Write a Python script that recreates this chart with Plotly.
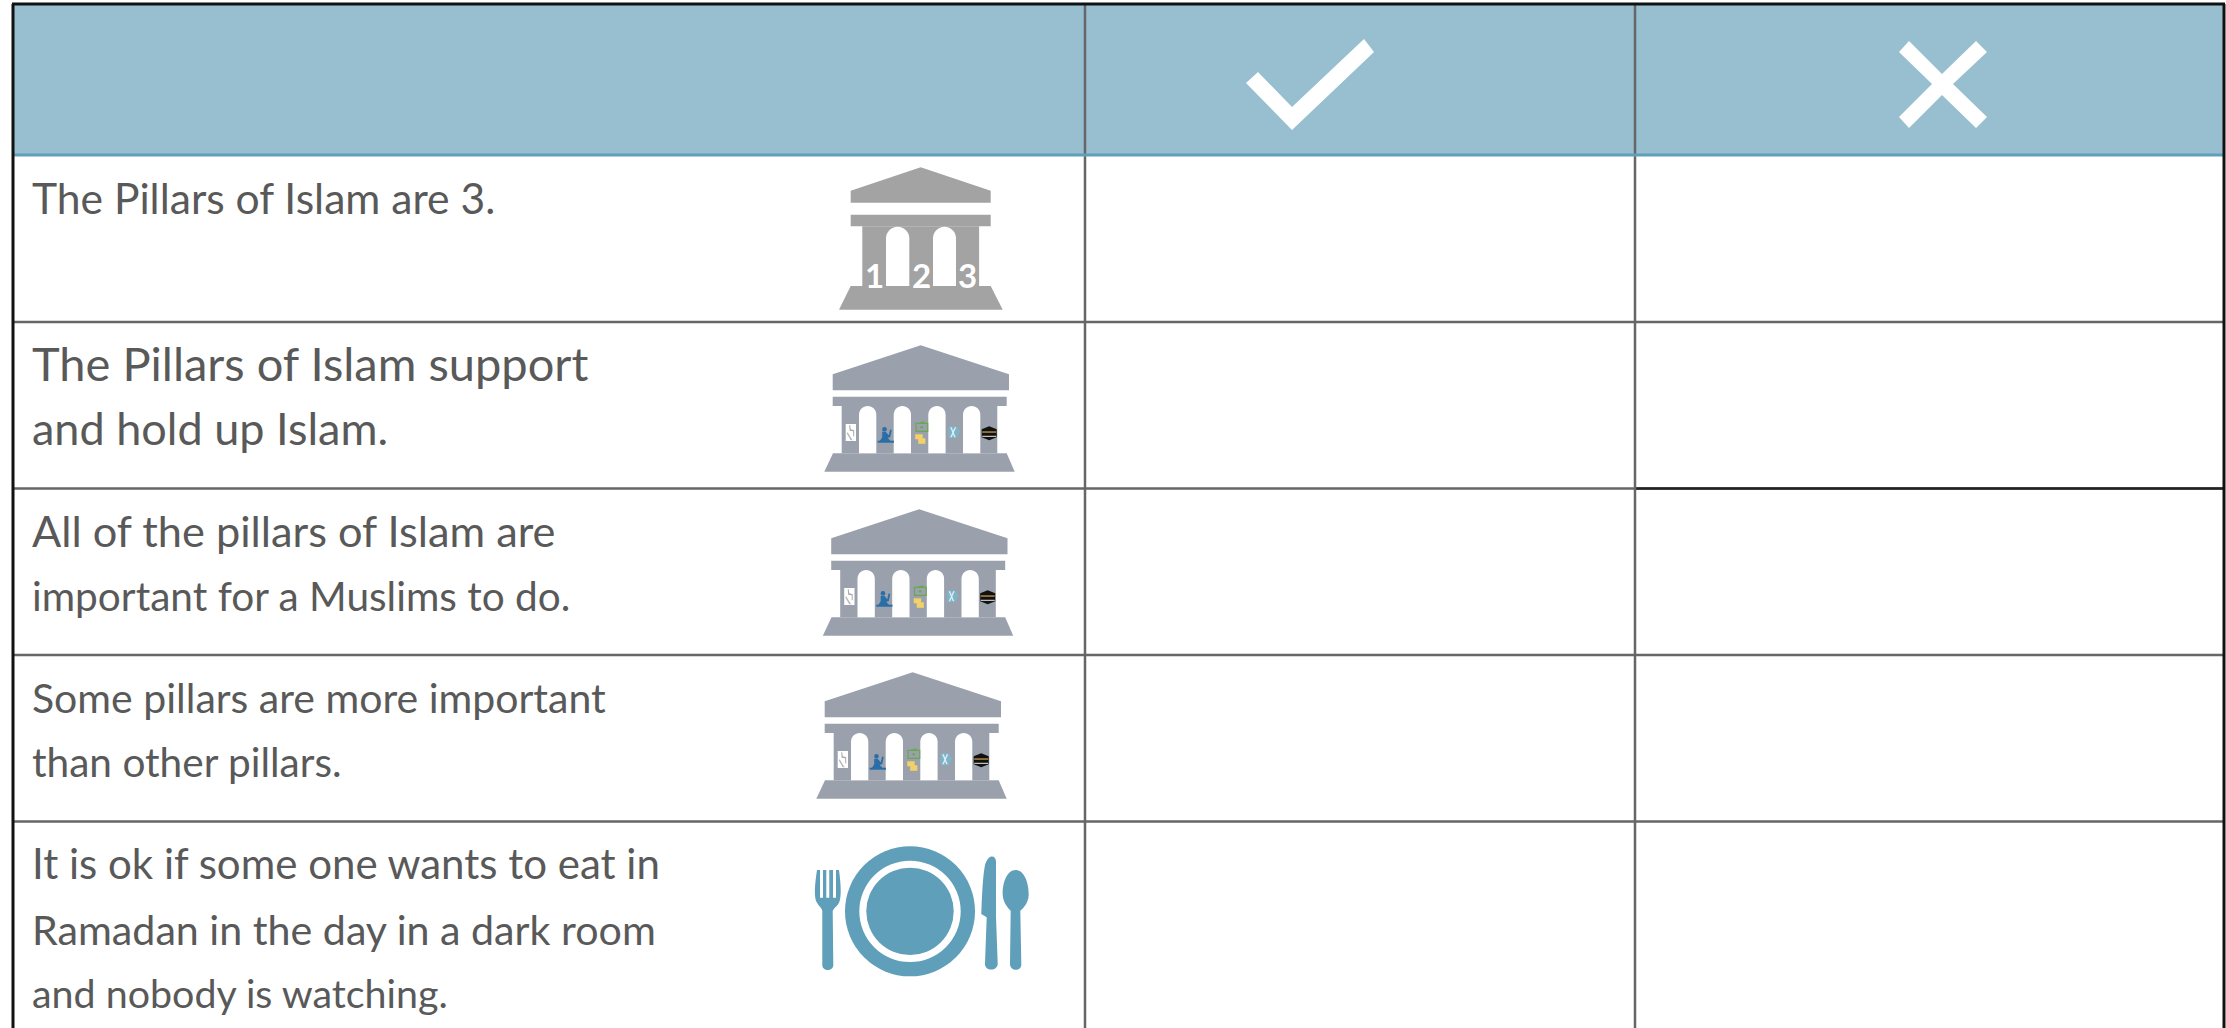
import plotly.graph_objects as go

# ---- content -----------------------------------------------------------
row_lines = [
    ["The Pillars of Islam are 3."],
    ["The Pillars of Islam support", "and hold up Islam."],
    ["All of the pillars of Islam are", "important for a Muslims to do."],
    ["Some pillars are more important", "than other pillars."],
    ["It is ok if some one wants to eat in", "Ramadan in the day in a dark room", "and nobody is watching."],
]
pillar_numbers = ["1", "2", "3"]

# ---- layout constants (full-size pixels) -------------------------------
W, H = 2226, 1028
HEADER = "#97bfd0"
TEAL = "#5f9fb9"
GRID = "#666666"
TEXT = "#595959"
GREY1 = "#a3a3a3"
GREY2 = "#9aa0ac"
FONT = "Lato"

shapes, annos = [], []


def rect(x0, y0, x1, y1, fill, line=None, lw=0):
    shapes.append(dict(type="rect", x0=x0, y0=y0, x1=x1, y1=y1, fillcolor=fill,
                       line=dict(color=line or fill, width=lw), layer="above"))


def hline(y, x0, x1, color, w):
    shapes.append(dict(type="line", x0=x0, x1=x1, y0=y, y1=y, line=dict(color=color, width=w), layer="above"))


def vline(x, y0, y1, color, w):
    shapes.append(dict(type="line", x0=x, x1=x, y0=y0, y1=y1, line=dict(color=color, width=w), layer="above"))


def path(d, fill):
    shapes.append(dict(type="path", path=d, fillcolor=fill, line=dict(width=0), layer="above"))


def poly(pts, fill):
    path("M" + " L".join(f"{x:.1f},{y:.1f}" for x, y in pts) + " Z", fill)


def circle(cx, cy, r, fill):
    shapes.append(dict(type="circle", x0=cx - r, x1=cx + r, y0=cy - r, y1=cy + r,
                       fillcolor=fill, line=dict(width=0), layer="above"))


def arch(x0, x1, top, bottom):
    r = (x1 - x0) / 2
    k = r * 0.55
    path(f"M{x0},{bottom} L{x0},{top + r} C{x0},{top + r - k} {x0 + r - k},{top} {x0 + r},{top} "
         f"C{x0 + r + k},{top} {x1},{top + r - k} {x1},{top + r} L{x1},{bottom} Z", "#ffffff")


def scaled(cmds, ox, oy, s=1 / 3):
    out = []
    for c in cmds:
        if isinstance(c, str):
            out.append(c)
        else:
            out.append(f"{ox + c[0] * s:.1f},{oy + c[1] * s:.1f}")
    return " ".join(out)


# ---- table frame --------------------------------------------------------
LEFT, RIGHT, TOP, HEAD_BOTTOM = 13, 2224, 4, 155
COL1, COL2 = 1085, 1635
ROW_Y = [322, 488.5, 655, 821.5]
rect(LEFT, TOP, RIGHT, HEAD_BOTTOM, HEADER)
for y in ROW_Y:
    hline(y, LEFT, RIGHT, GRID, 2.5)
hline(488.5, COL2, RIGHT, "#222222", 2.5)
vline(COL1, TOP, H, GRID, 2.5)
vline(COL2, TOP, H, GRID, 2.5)
hline(HEAD_BOTTOM, LEFT, RIGHT, TEAL, 3)
vline(LEFT, TOP, H, "#111111", 3)
vline(RIGHT, TOP, H, "#111111", 3)
hline(TOP, LEFT - 1, RIGHT + 1, "#111111", 3)

# ---- check and cross ----------------------------------------------------
poly([(1246, 83), (1258, 72), (1292, 107), (1364, 39), (1374, 52), (1292, 130)], "#ffffff")
poly([(1909, 41), (1899, 52), (1932, 84), (1899, 117), (1909, 128), (1942, 95), (1976, 128),
      (1987, 117), (1953, 84), (1987, 52), (1976, 41), (1942, 74)], "#ffffff")

# ---- row text -----------------------------------------------------------
TEXT_LEFT = 30
line_y = [[197], [363, 428], [530, 595], [697, 761], [863, 929, 992]]
line_size = [[42.6], [47, 45], [43.3, 40.6], [41, 40.6], [42, 41.2, 39.4]]
for lines, ys, sizes in zip(row_lines, line_y, line_size):
    for s, y, size in zip(lines, ys, sizes):
        annos.append(dict(x=TEXT_LEFT, y=y, text=s, showarrow=False, xanchor="left", yanchor="middle",
                          xref="x", yref="y", font=dict(family=FONT, size=size, color=TEXT)))


# ---- three-pillar temple --------------------------------------------------
def temple3(ax, ay):
    c = GREY1
    poly([(ax, ay), (ax + 70, ay + 23.4), (ax + 70, ay + 35.4), (ax - 70, ay + 35.4), (ax - 70, ay + 23.4)], c)
    rect(ax - 70, ay + 47.4, ax + 70, ay + 59, c)
    rect(ax - 58.4, ay + 59, ax + 58.4, ay + 119, c)
    poly([(ax - 70, ay + 118.7), (ax + 70, ay + 118.7), (ax + 82, ay + 142.4), (ax - 81.7, ay + 142.4)], c)
    arch(ax - 34.7, ax - 11.4, ay + 59.4, ay + 118.7)
    arch(ax + 12.3, ax + 35.3, ay + 59.4, ay + 118.7)
    for dx, t in zip((-46.7, 0.3, 47), pillar_numbers):
        annos.append(dict(x=ax + dx, y=ay + 108, text=t, showarrow=False, xanchor="center", yanchor="middle",
                          xref="x", yref="y", font=dict(family=FONT, size=33, color="#ffffff", weight=700)))


temple3(920.7, 167.3)


# ---- five-pillar temple ---------------------------------------------------
def temple5(ax, ay):
    c = GREY2
    poly([(ax, ay), (ax + 88.3, ay + 29), (ax + 88.3, ay + 45), (ax - 88, ay + 45), (ax - 88, ay + 29)], c)
    rect(ax - 88, ay + 51.4, ax + 86, ay + 60.7, c)
    rect(ax - 79, ay + 60.7, ax + 76.6, ay + 108, c)
    poly([(ax - 87.7, ay + 108), (ax + 86, ay + 108), (ax + 94, ay + 126.4), (ax - 96.4, ay + 126.4)], c)
    for x0 in (-61.7, -27, 7.6, 42.3):
        arch(ax + x0, ax + x0 + 17.3, ay + 60.7, ay + 108)
    # page with a hand
    rect(ax - 75, ay + 78.7, ax - 64.7, ay + 95.7, "#ffffff")
    poly([(ax - 71.5, ay + 80), (ax - 70.5, ay + 80), (ax - 70, ay + 84), (ax - 66.5, ay + 85), (ax - 66.5, ay + 91),
          (ax - 67.5, ay + 91), (ax - 67.5, ay + 86), (ax - 71, ay + 85.5)], "#a8a8a8")
    poly([(ax - 74, ay + 88), (ax - 73, ay + 87), (ax - 70, ay + 92), (ax - 68, ay + 95), (ax - 70, ay + 95)], "#b8b8b8")
    # person praying
    rect(ax - 43, ay + 95.4, ax - 26.7, ay + 97.4, "#2a6ea8")
    circle(ax - 36.2, ay + 84, 2.3, "#2a6ea8")
    poly([(ax - 38.5, ay + 86.5), (ax - 35, ay + 86.5), (ax - 32, ay + 90), (ax - 30.5, ay + 84), (ax - 29, ay + 85),
          (ax - 30.5, ay + 92), (ax - 33, ay + 92.5), (ax - 30, ay + 96), (ax - 41, ay + 96), (ax - 38.5, ay + 92)],
         "#2a6ea8")
    # money and coins
    shapes.append(dict(type="rect", x0=ax - 4.7, x1=ax + 7, y0=ay + 78, y1=ay + 86, fillcolor="rgba(0,0,0,0)",
                       line=dict(color="#6aa84f", width=1.2), layer="above"))
    circle(ax + 1, ay + 82, 1.3, "#6aa84f")
    poly([(ax - 3, ay + 78), (ax + 3, ay + 76), (ax + 5, ay + 78)], "#6aa84f")
    rect(ax - 5.5, ay + 89, ax + 2, ay + 94, "#f2d16b")
    rect(ax - 2.5, ay + 93, ax + 4.7, ay + 98.5, "#f2d16b")
    # clothing
    poly([(ax + 28, ay + 81), (ax + 36, ay + 81), (ax + 39.5, ay + 86), (ax + 36, ay + 93), (ax + 28, ay + 93),
          (ax + 27.5, ay + 86)], "#7fb3c8")
    poly([(ax + 29.5, ay + 82), (ax + 31, ay + 82), (ax + 35, ay + 92), (ax + 33.5, ay + 92)], "#dfeef4")
    poly([(ax + 34, ay + 82), (ax + 35.5, ay + 82), (ax + 31, ay + 92), (ax + 29.5, ay + 92)], "#dfeef4")
    # kaaba
    poly([(ax + 61, ay + 84), (ax + 68.5, ay + 81), (ax + 76, ay + 84), (ax + 76, ay + 92), (ax + 68.5, ay + 95),
          (ax + 61, ay + 92)], "#111111")
    rect(ax + 61.5, ay + 86, ax + 75.5, ay + 87.5, "#b08a3c")
    rect(ax + 61.5, ay + 90.5, ax + 75.5, ay + 91.5, "#eeeeee")


temple5(920.7, 345.3)
temple5(919.2, 509.3)
temple5(912.7, 672.3)

# ---- place setting --------------------------------------------------------
PX, PY = 780, 820
circle(PX + 390 / 3, PY + 274 / 3, 65, TEAL)
circle(PX + 390 / 3, PY + 274 / 3, 50.7, "#ffffff")
circle(PX + 390 / 3, PY + 274 / 3, 43.7, TEAL)
fork = ["M", (111, 150), "C", (105, 190), (100, 235), (112, 250), "C", (120, 262), (128, 268), (127, 275),
        "L", (127, 435), "C", (127, 455), (160, 455), (160, 435), "L", (158, 275), "C", (158, 268), (168, 262), (176, 250),
        "C", (186, 235), (182, 190), (177, 150), "L", (168, 150), "L", (168, 233), "L", (159, 233), "L", (159, 150),
        "L", (148, 150), "L", (148, 233), "L", (139, 233), "L", (139, 150), "L", (129, 150), "L", (129, 233),
        "L", (120, 233), "L", (120, 150), "Z"]
knife = ["M", (648, 125), "C", (648, 105), (625, 100), (615, 135), "C", (608, 170), (606, 230), (604, 282),
         "L", (620, 292), "L", (615, 430), "C", (613, 455), (654, 455), (653, 430), "L", (648, 290), "Z"]
spoon = ["M", (707, 150), "C", (680, 150), (667, 190), (668, 225), "C", (670, 250), (685, 265), (692, 272),
         "L", (690, 432), "C", (690, 455), (725, 455), (724, 432), "L", (721, 272), "C", (730, 265), (745, 250), (746, 225),
         "C", (747, 190), (733, 150), (707, 150), "Z"]
for p in (fork, knife, spoon):
    path(scaled(p, PX, PY), TEAL)

# ---- figure ---------------------------------------------------------------
fig = go.Figure()
fig.update_layout(
    width=W, height=H, autosize=False,
    margin=dict(l=0, r=0, t=0, b=0),
    paper_bgcolor="#ffffff", plot_bgcolor="#ffffff",
    xaxis=dict(range=[0, W], visible=False, fixedrange=True),
    yaxis=dict(range=[H, 0], visible=False, fixedrange=True),
    shapes=shapes, annotations=annos, showlegend=False,
)
fig.write_html("out.html", config=dict(displayModeBar=False),
               post_script="document.body.style.margin='0';document.body.style.overflow='hidden';")
